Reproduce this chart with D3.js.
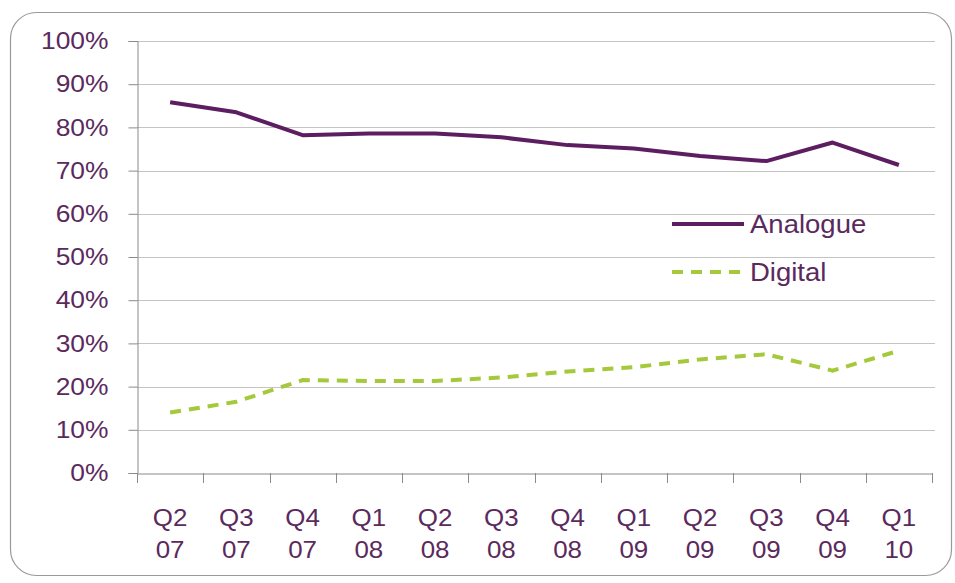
<!DOCTYPE html>
<html><head><meta charset="utf-8">
<script src="https://cdn.jsdelivr.net/npm/d3@7"></script>
<style>body{margin:0;background:#fff}svg{display:block}</style>
</head><body>
<script>
const categories = ["Q2 07","Q3 07","Q4 07","Q1 08","Q2 08","Q3 08","Q4 08","Q1 09","Q2 09","Q3 09","Q4 09","Q1 10"];
const analogue = [85.8,83.5,78.2,78.6,78.6,77.7,75.9,75.1,73.4,72.2,76.5,71.3];
const digital  = [14.0,16.5,21.5,21.3,21.3,22.1,23.5,24.5,26.3,27.5,23.7,28.3];
const yTicks = [0,10,20,30,40,50,60,70,80,90,100];
const seriesNames = ["Analogue","Digital"];

const W=955,H=583;
const svg=d3.select("body").append("svg").attr("width",W).attr("height",H);
const textColor="#5b2a5d";
const font="'Liberation Sans', Arial, sans-serif";

svg.append("rect").attr("x",10.5).attr("y",12.5).attr("width",W-14).attr("height",H-20)
  .attr("rx",26).attr("fill","#fff").attr("stroke","#9a9a9a").attr("stroke-width",1.2);

const x0=137,x1=932,yTop=41,yBot=473;
const xBand=d3.scaleBand().domain(categories).range([x0,x1]);
const y=d3.scaleLinear().domain([0,100]).range([yBot,yTop]);
const xc=d=>xBand(d)+xBand.bandwidth()/2;

// gridlines
svg.append("g").selectAll("line").data(yTicks.filter(d=>d>0)).join("line")
  .attr("x1",x0).attr("x2",935).attr("y1",d=>Math.round(y(d))+0.5).attr("y2",d=>Math.round(y(d))+0.5)
  .attr("stroke","#c4c4c4").attr("stroke-width",1);

// y axis
const yAxis=svg.append("g").attr("transform",`translate(${x0+0.5},0)`)
  .call(d3.axisLeft(y).tickValues(yTicks).tickSize(9).tickFormat(d=>d+"%").tickPadding(20));
yAxis.select(".domain").attr("stroke","#8a8a8a");
yAxis.selectAll(".tick line").attr("stroke","#8a8a8a");
yAxis.selectAll("text").attr("fill",textColor).style("font-family",font).style("font-size","24px");

// x axis
const xAxis=svg.append("g").attr("transform",`translate(0,${yBot+0.5})`)
  .call(d3.axisBottom(xBand).tickSize(0).tickFormat(""));
xAxis.select(".domain").attr("stroke","#8a8a8a");
xAxis.selectAll(".tick line").remove();
const edges=categories.map(c=>xBand(c)).concat([x1]);
svg.append("g").selectAll("line").data(edges).join("line")
  .attr("x1",d=>Math.round(d)+0.5).attr("x2",d=>Math.round(d)+0.5).attr("y1",yBot).attr("y2",yBot+10)
  .attr("stroke","#8a8a8a");
const lab=svg.append("g").selectAll("text").data(categories).join("text")
  .attr("x",d=>xc(d)).attr("y",526).attr("text-anchor","middle")
  .attr("fill",textColor).style("font-family",font).style("font-size","24px");
lab.append("tspan").attr("x",d=>xc(d)).text(d=>d.split(" ")[0]);
lab.append("tspan").attr("x",d=>xc(d)).attr("dy",32).text(d=>d.split(" ")[1]);

// lines
const line=d3.line().x((d,i)=>xc(categories[i])).y(d=>y(d));
svg.append("path").datum(analogue).attr("d",line).attr("fill","none")
  .attr("stroke","#5c1e60").attr("stroke-width",4).attr("stroke-linejoin","round");
svg.append("path").datum(digital).attr("d",line).attr("fill","none")
  .attr("stroke","#a5c93a").attr("stroke-width",4).attr("stroke-dasharray","11,8");

// legend
const legend=[{name:seriesNames[0],color:"#5c1e60",dash:null,yy:224},{name:seriesNames[1],color:"#a5c93a",dash:"11,8",yy:272}];
const lg=svg.append("g").selectAll("g").data(legend).join("g");
lg.append("line").attr("x1",672).attr("x2",744).attr("y1",d=>d.yy).attr("y2",d=>d.yy)
  .attr("stroke",d=>d.color).attr("stroke-width",4).attr("stroke-dasharray",d=>d.dash);
lg.append("text").attr("x",750).attr("y",d=>d.yy+9).text(d=>d.name)
  .attr("fill",textColor).style("font-family",font).style("font-size","25px");

// horizontal stretch of text to match the reference's wide glyphs
svg.selectAll("text").each(function(){
  const el=this;
  const tsp=el.querySelectorAll("tspan");
  if(tsp.length){ tsp.forEach(t=>{const l=t.getComputedTextLength(); t.setAttribute("textLength",l*1.08); t.setAttribute("lengthAdjust","spacingAndGlyphs");}); }
  else { const l=el.getComputedTextLength(); el.setAttribute("textLength",l*1.1); el.setAttribute("lengthAdjust","spacingAndGlyphs"); }
});
</script>
</body></html>
